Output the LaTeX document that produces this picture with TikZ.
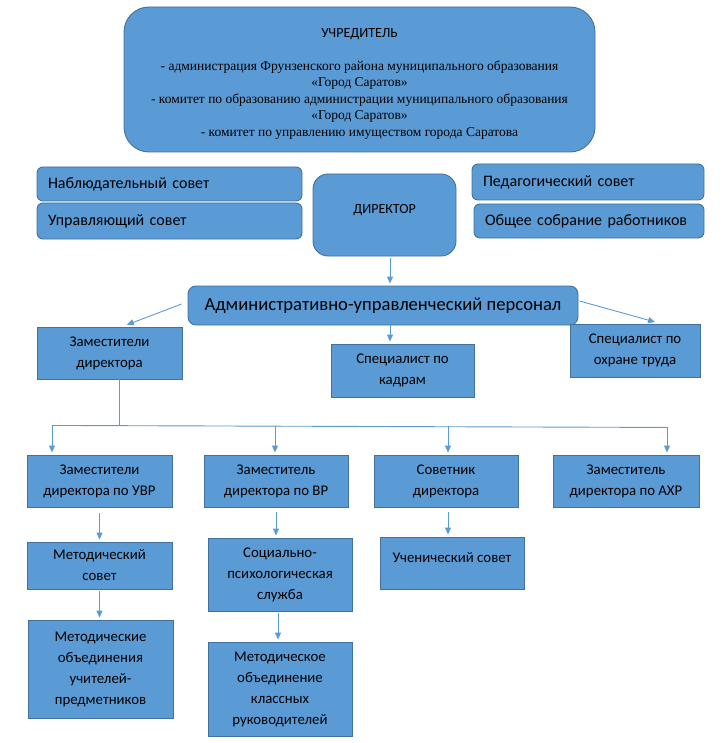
\documentclass[tikz,border=0pt]{standalone}
\usepackage{fontspec}
\setmainfont{Carlito}
\newfontfamily\timesfont{Liberation Serif}
\usetikzlibrary{arrows.meta}

\definecolor{boxfill}{HTML}{5B9BD5}
\definecolor{boxline}{HTML}{41719C}
\definecolor{linkcol}{HTML}{5B9BD5}

\tikzset{
  unit/.style={draw=boxline, fill=boxfill, line width=0.9pt, align=center,
    inner sep=0pt, font=\fontsize{14.8}{21}\selectfont},
  council/.style={unit, rounded corners=6pt, align=left, inner xsep=11pt,
    font=\fontsize{16}{19}\selectfont},
  link/.style={draw=linkcol, line width=0.9pt},
  arrow/.style={link, -{Triangle[length=7pt,width=6pt]}, shorten >=2pt}
}

\begin{document}
\begin{tikzpicture}[x=1pt, y=-1pt]
  \useasboundingbox (0,0) rectangle (722,743);

  % top of the chart
  \node[unit, rounded corners=25pt, minimum width=471pt, minimum height=145pt,
    font=\timesfont\fontsize{13.5}{16.5}\selectfont] (founder) at (359.5,79.5)
    {\rule{0pt}{17pt}{\rmfamily\fontsize{14}{16.5}\selectfont УЧРЕДИТЕЛЬ}\\[16.5pt]
     - администрация Фрунзенского района муниципального образования\\
     «Город Саратов»\\
     - комитет по образованию администрации муниципального образования\\
     «Город Саратов»\\
     - комитет по управлению имуществом города Саратова};

  \node[council, text width=243pt, minimum height=34pt] (watch) at (169.5,184) {Наблюдательный совет};
  \node[council, text width=243pt, minimum height=36pt] (board) at (169.5,221) {Управляющий совет};
  \node[unit, rounded corners=15pt, minimum width=143pt, minimum height=82pt,
    font=\fontsize{14}{21}\selectfont] (director) at (384.5,215)
    {ДИРЕКТОР\\[-9pt]\mbox{}};
  \node[council, text width=210pt, minimum height=36pt] (teachers) at (588,182) {Педагогический совет};
  \node[council, text width=208pt, minimum height=34pt] (meeting) at (589,221) {Общее собрание работников};

  % administration
  \node[unit, rounded corners=8pt, minimum width=390pt, minimum height=39pt,
    font=\fontsize{18.6}{21}\selectfont] (staff) at (383,305.5) {Административно-управленческий персонал};
  \node[unit, minimum width=145pt, minimum height=52pt] (deputies) at (109.5,353) {Заместители\\директора};
  \node[unit, minimum width=143pt, minimum height=53pt] (hr) at (402.5,370.5) {Специалист по\\кадрам};
  \node[unit, minimum width=130pt, minimum height=53pt] (safety) at (635,350.5) {Специалист по\\охране труда};

  % deputies
  \node[unit, minimum width=145pt, minimum height=52pt] (uvr) at (99.5,481) {Заместители\\директора по УВР};
  \node[unit, minimum width=144pt, minimum height=52pt] (vr) at (276,481) {Заместитель\\директора по ВР};
  \node[unit, minimum width=144pt, minimum height=52pt] (adviser) at (446,481) {Советник\\директора};
  \node[unit, minimum width=146pt, minimum height=52pt] (ahr) at (626,481) {Заместитель\\директора по АХР};

  \node[unit, minimum width=145pt, minimum height=47pt] (method) at (99.5,565.5) {Методический\\совет};
  \node[unit, minimum width=144pt, minimum height=73pt] (social) at (280,574.5) {Социально-\\психологическая\\служба};
  \node[unit, minimum width=144pt, minimum height=52pt] (pupils) at (452,563) {Ученический совет\\[-9pt]\mbox{}};

  \node[unit, minimum width=145pt, minimum height=98pt] (unions) at (100.5,669)
    {Методические\\объединения\\учителей-\\предметников};
  \node[unit, minimum width=144pt, minimum height=94pt] (classes) at (280,689)
    {Методическое\\объединение\\классных\\руководителей};

  % connectors
  \draw[arrow, shorten <=2pt] ([xshift=5.5pt]director.south) -- ([xshift=5.5pt]director.south |- staff.north);
  \draw[arrow] ([xshift=-6pt,yshift=1.5pt]staff.west) -- ([xshift=15.5pt,yshift=1pt]deputies.north);
  \draw[arrow] ([xshift=7pt]staff.south) -- ([xshift=7pt]staff.south |- hr.north);
  \draw[arrow] ([xshift=1pt,yshift=4.5pt]staff.east) -- ([xshift=22pt,yshift=1pt]safety.north);

  \draw[link] ([xshift=9.5pt]deputies.south) -- ++(0,46) coordinate (joint);
  \draw[link] ([xshift=-47.5pt]uvr.north |- joint) -- ([xshift=41pt,yshift=-2pt]ahr.north |- joint);
  \foreach \n/\s/\d in {uvr/-47.5/0, vr/-1/0.5, adviser/2/1, ahr/41/2}
    \draw[arrow] ([xshift=\s pt,yshift=-\d pt]\n.north |- joint) -- ([xshift=\s pt]\n.north);

  \draw[arrow, shorten <=6pt] (uvr.south) -- (uvr.south |- method.north);
  \draw[arrow, shorten <=5pt] (vr.south) -- (vr.south |- social.north);
  \draw[arrow, shorten <=5pt] ([xshift=2pt]adviser.south) -- ([xshift=2pt]adviser.south |- pupils.north);
  \draw[arrow, shorten <=2pt] (method.south) -- (method.south |- unions.north);
  \draw[arrow, shorten <=2pt] ([xshift=-2pt]social.south) -- ([xshift=-2pt]social.south |- classes.north);
\end{tikzpicture}
\end{document}
